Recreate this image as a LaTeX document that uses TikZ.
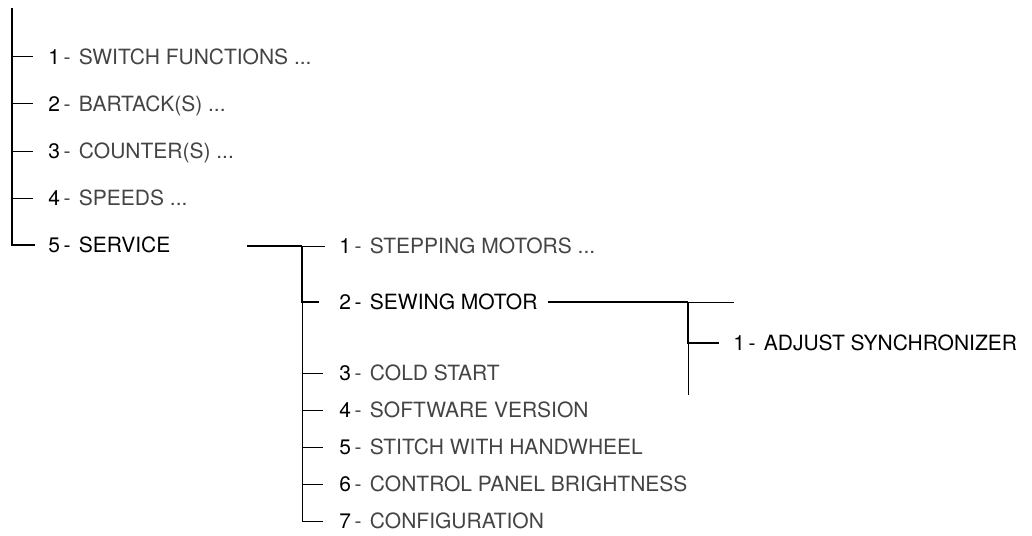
\documentclass[tikz,border=0pt]{standalone}
\usepackage{fontspec}
\setmainfont{TeX Gyre Heros}
\definecolor{menugray}{HTML}{444444}

\begin{document}
\begin{tikzpicture}[x=0.5pt,y=-0.5pt,
    trunk/.style={line width=1.4pt},
    twig/.style={line width=0.5pt},
    entry/.style={anchor=west, inner sep=0pt, text height=7.5pt, text depth=0pt,
      font=\fontsize{10.5}{12}\selectfont, text=menugray}]
  \useasboundingbox (0,0) rectangle (1032,535);
  % main menu
  \coordinate (top) at (12,8);
  \foreach \n/\t in {1/{SWITCH FUNCTIONS ...},2/{BARTACK(S) ...},3/{COUNTER(S) ...},4/{SPEEDS ...}}{
    \node[entry] (m\n) at (48,{57+47*(\n-1)}) {\textcolor{black}{\n}\,-\hspace{0.4em}\t};
    \draw[twig, shorten >=7.5pt] (top |- m\n.west) -- (m\n.west);
  }
  \node[entry, text=black] (m5) at (48,245) {5\,-\hspace{0.4em}SERVICE};
  \draw[trunk, shorten >=6.5pt] (top) |- (m5.west);
  % service menu
  \coordinate (hs) at (247,246);
  \coordinate (s) at (302,246);
  \draw[trunk] (hs) -- (s);
  \node[entry] (s1) at (339,246) {\textcolor{black}{1}\,-\hspace{0.4em}STEPPING MOTORS ...};
  \node[entry, text=black] (s2) at (339,302) {2\,-\hspace{0.4em}SEWING MOTOR};
  \foreach \n/\t in {3/COLD START,4/SOFTWARE VERSION,5/STITCH WITH HANDWHEEL,6/CONTROL PANEL BRIGHTNESS,7/CONFIGURATION}
    \node[entry] (s\n) at (339,{373+37*(\n-3)}) {\textcolor{black}{\n}\,-\hspace{0.4em}\t};
  \draw[twig, shorten >=7pt] (s) -- (s1.west);
  \draw[trunk, shorten >=10pt] (s) |- (s2.west);
  \foreach \i in {3,...,6}
    \draw[twig, shorten >=8pt] (s |- s\i.west) -- (s\i.west);
  \draw[twig, shorten >=8pt] (s |- s2.west) |- (s7.west);
  % sewing motor menu
  \coordinate (w) at (688,302);
  \coordinate (wtip) at (734,302);
  \coordinate (wend) at (688,395);
  \node[entry, text=black] (a1) at (733,343) {1\,-\hspace{0.4em}ADJUST SYNCHRONIZER};
  \draw[trunk, shorten <=5pt] (s2.east) -- (w);
  \draw[twig] (w) -- (wtip);
  \draw[trunk, shorten >=7pt] (w) |- (a1.west);
  \draw[twig] (w |- a1.west) -- (wend);
\end{tikzpicture}
\end{document}
